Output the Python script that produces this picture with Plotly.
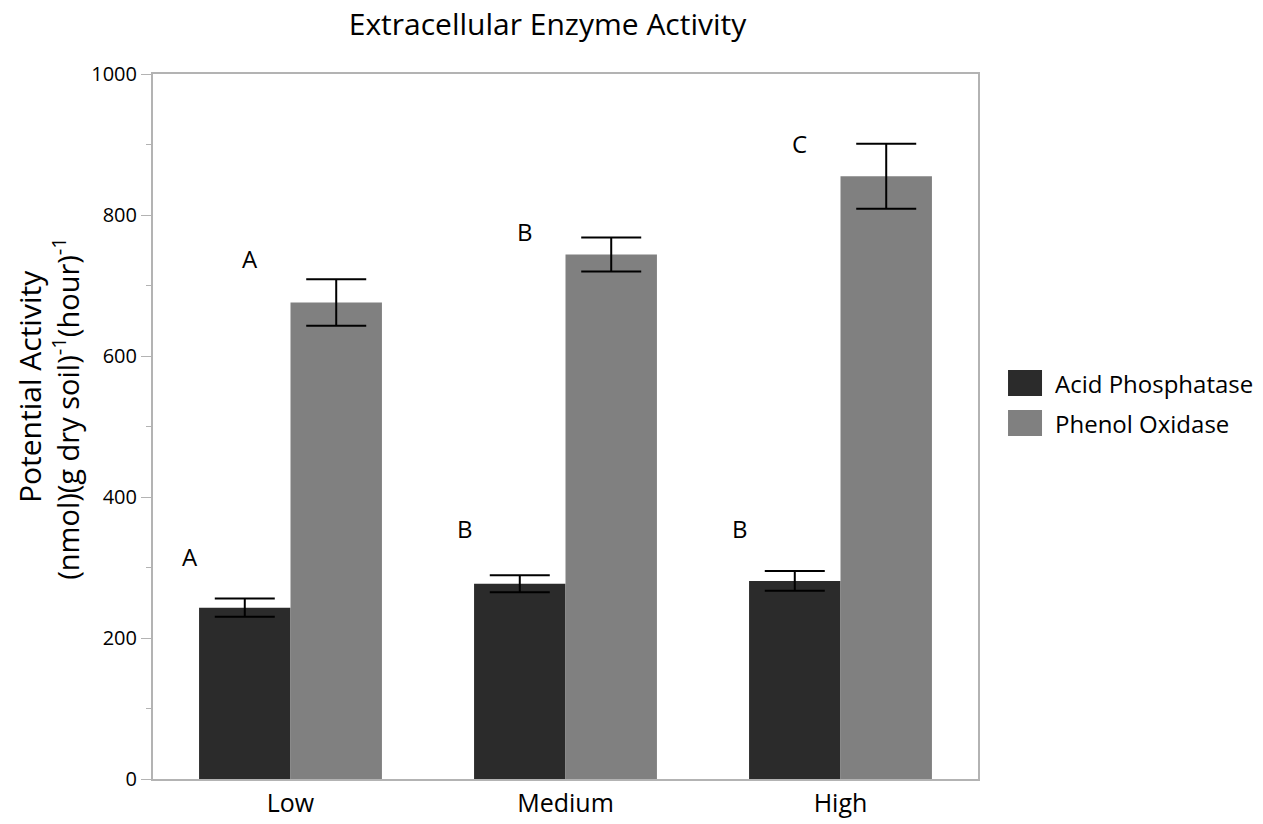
import plotly.graph_objects as go

# Nutrient level groups
levels = ["Low", "Medium", "High"]

# Mean potential activity, nmol (g dry soil)^-1 (hour)^-1
acid_phosphatase = [243, 277, 281]
phenol_oxidase = [676, 744, 855]

# Standard errors
acid_err = [13, 12, 14]
phenol_err = [33, 24, 46]

# Significance letters and the heights they sit at
acid_letters = ["A", "B", "B"]
acid_letter_y = [316, 356, 356]
phenol_letters = ["A", "B", "C"]
phenol_letter_y = [738, 777, 902]

FONT = "Open Sans"
ACID_COLOR = "#2b2b2b"
PHENOL_COLOR = "#808080"
AXIS_COLOR = "#b3b3b3"

fig = go.Figure()
fig.add_trace(go.Bar(
    x=levels, y=acid_phosphatase, name="Acid Phosphatase",
    marker=dict(color=ACID_COLOR, line=dict(width=0)),
    error_y=dict(type="data", array=acid_err, color="black", thickness=2, width=30),
    showlegend=False,
))
fig.add_trace(go.Bar(
    x=levels, y=phenol_oxidase, name="Phenol Oxidase",
    marker=dict(color=PHENOL_COLOR, line=dict(width=0)),
    error_y=dict(type="data", array=phenol_err, color="black", thickness=2, width=30),
    showlegend=False,
))

annotations = []
for lvl, txt, yv in zip(levels, acid_letters, acid_letter_y):
    annotations.append(dict(x=lvl, y=yv, text=txt, xref="x", yref="y", showarrow=False,
                            xshift=-101, font=dict(family=FONT, size=24, color="black")))
for lvl, txt, yv in zip(levels, phenol_letters, phenol_letter_y):
    annotations.append(dict(x=lvl, y=yv, text=txt, xref="x", yref="y", showarrow=False,
                            xshift=-41, font=dict(family=FONT, size=24, color="black")))

# Y-axis title in two lines
annotations.append(dict(x=-0.1503, y=0.556, xref="paper", yref="paper", text="Potential Activity",
                        xanchor="center", yanchor="middle",
                        textangle=-90, showarrow=False, font=dict(family=FONT, size=30, color="black")))
annotations.append(dict(x=-0.106, y=0.526, xref="paper", yref="paper",
                        text="(nmol)(g dry soil)<sup>-1</sup>(hour)<sup>-1</sup>",
                        xanchor="center", yanchor="middle",
                        textangle=-90, showarrow=False, font=dict(family=FONT, size=29, color="black")))

# Legend built from boxes and labels
legend_items = [("Acid Phosphatase", ACID_COLOR, 0.5433, 0.5801),
                ("Phenol Oxidase", PHENOL_COLOR, 0.4865, 0.5234)]
shapes = []
for label, color, y0, y1 in legend_items:
    shapes.append(dict(type="rect", xref="paper", yref="paper", x0=1.0364, x1=1.0776,
                       y0=y0, y1=y1, fillcolor=color, line=dict(width=0)))
    annotations.append(dict(x=1.0909, y=(y0 + y1) / 2, xref="paper", yref="paper", text=label,
                            xanchor="left", yanchor="middle", showarrow=False,
                            font=dict(family=FONT, size=24, color="black")))

fig.update_layout(
    width=1263, height=824,
    margin=dict(l=153, r=285, t=74, b=45),
    paper_bgcolor="white", plot_bgcolor="white",
    barmode="group", bargap=0.335, bargroupgap=0,
    title=dict(text="Extracellular Enzyme Activity", x=0.4335, xanchor="center", y=0.97, yanchor="middle",
               font=dict(family=FONT, size=30, color="black")),
    font=dict(family=FONT, color="black"),
    annotations=annotations,
    shapes=shapes,
    xaxis=dict(
        showline=True, linecolor=AXIS_COLOR, linewidth=2, mirror=True, automargin=False,
        ticks="", showgrid=False, tickfont=dict(family=FONT, size=25, color="black"),
        ticklabelstandoff=1,
    ),
    yaxis=dict(
        range=[0, 1000], tickvals=[0, 200, 400, 600, 800, 1000], automargin=False,
        showline=True, linecolor=AXIS_COLOR, linewidth=2, mirror=True,
        ticks="outside", ticklen=10, tickcolor=AXIS_COLOR, tickwidth=1,
        minor=dict(ticks="outside", ticklen=5, tickcolor=AXIS_COLOR, dtick=100, tickwidth=1),
        showgrid=False, zeroline=False,
        tickfont=dict(family=FONT, size=20, color="black"),
    ),
)

fig.write_html("out.html")
